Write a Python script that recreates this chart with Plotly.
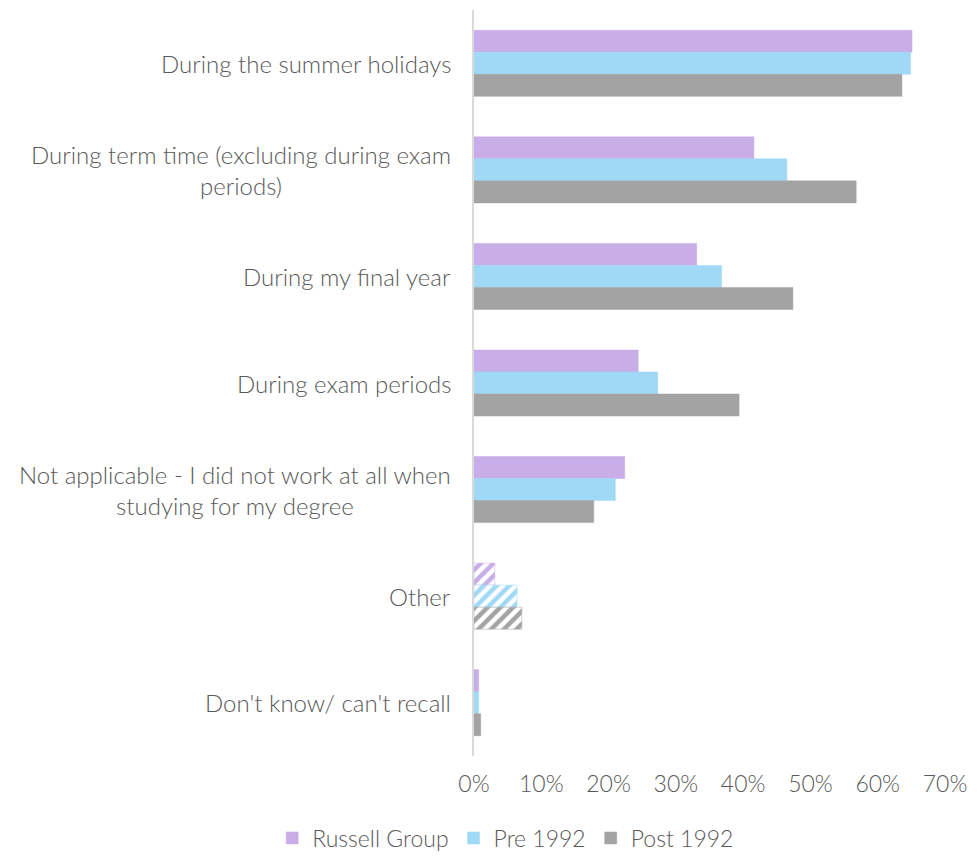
import plotly.graph_objects as go

categories = [
    "During the summer holidays",
    "During term time (excluding during exam<br>periods)",
    "During my final year",
    "During exam periods",
    "Not applicable - I did not work at all when<br>studying for my degree",
    "Other",
    "Don't know/ can't recall",
]
series_names = ["Russell Group", "Pre 1992", "Post 1992"]
russell = [0.651, 0.416, 0.331, 0.244, 0.224, 0.031, 0.007]
pre1992 = [0.649, 0.465, 0.368, 0.273, 0.210, 0.064, 0.007]
post1992 = [0.636, 0.568, 0.474, 0.394, 0.178, 0.071, 0.010]
colors = ["#C8ADE8", "#9FD9F6", "#A3A3A3"]
hatched_category = "Other"
x_ticks = [0, 0.1, 0.2, 0.3, 0.4, 0.5, 0.6, 0.7]

FONT = "Lato"
TXT = "#595959"
FS = 24

fig = go.Figure()
for name, vals, col in zip(series_names, [russell, pre1992, post1992], colors):
    shapes = ["/" if c == hatched_category else "" for c in categories]
    fig.add_trace(go.Bar(
        name=name, y=categories, x=vals, orientation="h",
        marker=dict(color=col, line=dict(color=col, width=0.5),
                    pattern=dict(shape=shapes, fillmode="replace", bgcolor="white",
                                 fgcolor=col, size=9, solidity=0.5)),
    ))

for c in categories:
    fig.add_annotation(x=0, xref="paper", y=c, yref="y", text=c, showarrow=False,
                       xanchor="right", yanchor="middle", align="center", xshift=-21,
                       font=dict(family=FONT, size=FS, color=TXT, weight=300))

fig.update_layout(
    width=972, height=849, barmode="group", bargap=0.38, bargroupgap=0,
    plot_bgcolor="white", paper_bgcolor="white",
    margin=dict(l=466, r=35, t=2, b=101, autoexpand=False),
    font=dict(family=FONT, size=FS, color=TXT, weight=300),
    xaxis=dict(range=[0, 0.7], tickvals=x_ticks, tickformat=".0%", showgrid=False,
               zeroline=False, showline=False, ticks="", ticklabelstandoff=12,
               tickfont=dict(family=FONT, size=FS - 1, color=TXT, weight=300)),
    yaxis=dict(autorange="reversed", showticklabels=False, showgrid=False, zeroline=False,
               showline=True, linecolor="#D9D9D9", linewidth=2, ticks=""),
    legend=dict(orientation="h", xref="container", yref="container", x=0.512, y=0.0224,
                xanchor="center", yanchor="middle",
                font=dict(family=FONT, size=FS - 1, color=TXT, weight=300),
                itemwidth=30, traceorder="normal"),
    showlegend=True,
)
fig.write_html("out.html")
